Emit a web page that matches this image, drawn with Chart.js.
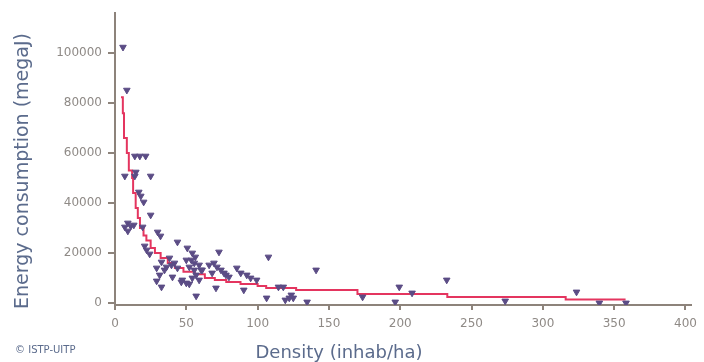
<!DOCTYPE html>
<html>
<head>
<meta charset="utf-8">
<script src="https://cdn.jsdelivr.net/npm/chart.js@4/dist/chart.umd.min.js"></script>
<style>
  html, body { margin: 0; padding: 0; background: #fff; overflow: hidden; }
  canvas { display: block; }
</style>
</head>
<body>
<canvas id="chart" width="704" height="362"></canvas>
<script>
// density (inhab/ha) and energy use (megaJ)
var density = [5.6, 8.3, 13.9, 17.4, 21.5, 6.9, 14.6, 13.9, 25, 16.7, 18.1, 20.1, 25, 6.9, 9, 11.1, 13.2, 9,
    19.4, 29.9, 31.9, 20.8, 22.2, 24.3, 43.8, 50.7, 54.2, 56.3, 32.6, 29.2, 34.7, 31.3, 29.2, 32.6,
    38.2, 41.7, 43.8, 40.3, 50, 52.1, 55.6, 46.5, 52.1, 56.9, 56.9, 53.5, 55.6, 60.4, 54.2, 59,
    72.9, 66, 69.4, 71.5, 74.3, 68.1, 77.8, 70.8, 85.4, 88.2, 92.4, 95.1, 99.3, 90.3, 107.6, 106.3,
    114.6, 118, 119.4, 122.2, 125, 134.7, 141, 173.6, 196.5, 199.3, 208.3, 232.6, 273.6, 323.6,
    339.6, 358.3, 36.1, 39.6, 47.2, 50, 59, 61.1, 79.9, 76.4, 123.6];
var energy = [102400, 85200, 58800, 58800, 58800, 50800, 52400, 50800, 50800, 44400, 42800, 40400, 35200,
    30400, 32000, 30800, 31200, 28800, 30400, 28400, 26800, 22800, 21200, 19600, 24400, 22000, 20000,
    18400, 16400, 14000, 13200, 11200, 8800, 6400, 18000, 16000, 14000, 10400, 17200, 14400, 16000,
    8400, 7600, 11200, 2800, 17200, 13200, 13200, 10000, 9200, 20400, 15200, 16000, 14400, 13200,
    12000, 11200, 6000, 14000, 12000, 11200, 10000, 9200, 5200, 18400, 2000, 6400, 6400, 1200, 2000,
    2000, 400, 13200, 2400, 400, 6400, 4000, 9200, 800, 4400, 0, 0, 14400, 15200, 9200, 8000, 15200,
    13200, 10400, 12000, 3200];

// fitted curve, drawn as steps
var fitX = [4.2, 5.5, 6.3, 8.3, 9.7, 12, 12.7, 14.5, 16, 17.5, 20, 22, 25, 28, 32, 37, 42, 48, 56, 63,
    70, 78, 88, 100, 106, 127, 170, 233, 316, 358];
var fitY = [82400, 76000, 66000, 60000, 53000, 50000, 44000, 38000, 34000, 30000, 27000, 25000, 22000,
    20000, 18000, 16000, 14000, 12500, 11500, 10000, 9200, 8400, 7600, 6800, 6000, 5200, 3600, 2400,
    1400, 1400];

var xTicks = [0, 50, 100, 150, 200, 250, 300, 350, 400];
var yTicks = [0, 20000, 40000, 60000, 80000, 100000];

var axisColor = "#8d837b";
var labelColor = "#5b6b8c";
var tickFont = { family: "DejaVu Sans", size: 12 };

function pts(xs, ys) {
    return xs.map(function(x, i){ return { x: x, y: ys[i] }; });
}

var titles = {
    id: "titles",
    afterDraw: function(chart) {
        var ctx = chart.ctx;
        ctx.save();
        ctx.fillStyle = labelColor;
        ctx.font = "18px 'DejaVu Sans'";
        ctx.textAlign = "center";
        ctx.textBaseline = "alphabetic";
        ctx.fillText("Density (inhab/ha)", 339, 358);
        ctx.save();
        ctx.font = "19px 'DejaVu Sans'";
        ctx.translate(28, 171);
        ctx.rotate(-Math.PI / 2);
        ctx.fillText("Energy consumption (megaJ)", 0, 0);
        ctx.restore();
        ctx.font = "10px 'DejaVu Sans'";
        ctx.textAlign = "left";
        ctx.textBaseline = "middle";
        ctx.fillText("\u00a9 ISTP-UITP", 15, 350);
        ctx.restore();
    }
};

new Chart(document.getElementById("chart"), {
    type: "scatter",
    data: {
        datasets: [{
            type: "line",
            data: pts(fitX, fitY),
            borderColor: "#e4355f",
            borderWidth: 2,
            pointRadius: 0,
            stepped: "before",
            fill: false,
            order: 2
        }, {
            data: pts(density, energy),
            backgroundColor: "#5b4c85",
            borderColor: "#5b4c85",
            borderWidth: 1,
            pointStyle: "triangle",
            rotation: 180,
            pointRadius: 3.8,
            order: 1
        }]
    },
    options: {
        responsive: false,
        animation: false,
        events: [],
        layout: { padding: { left: 0, right: 7, top: 13, bottom: 0 } },
        plugins: { legend: { display: false }, tooltip: { enabled: false } },
        scales: {
            x: {
                type: "linear",
                min: 0,
                max: 404,
                afterBuildTicks: function(scale){ scale.ticks = xTicks.map(function(v){ return { value: v }; }); },
                afterFit: function(scale){ scale.height = 57; },
                grid: { drawOnChartArea: false, drawTicks: true, tickLength: 5, color: axisColor, lineWidth: 2 },
                border: { display: true, color: axisColor, width: 2 },
                ticks: { color: "#8f8a86", font: tickFont, padding: 7, maxRotation: 0 }
            },
            y: {
                type: "linear",
                min: -800,
                max: 116000,
                afterBuildTicks: function(scale){ scale.ticks = yTicks.map(function(v){ return { value: v }; }); },
                afterFit: function(scale){ scale.width = 115; },
                grid: { drawOnChartArea: false, drawTicks: true, tickLength: 7, color: axisColor, lineWidth: 2 },
                border: { display: true, color: axisColor, width: 2 },
                ticks: { color: "#8f8a86", font: tickFont, padding: 6, callback: function(v){ return String(v); } }
            }
        }
    },
    plugins: [titles]
});
</script>
</body>
</html>
